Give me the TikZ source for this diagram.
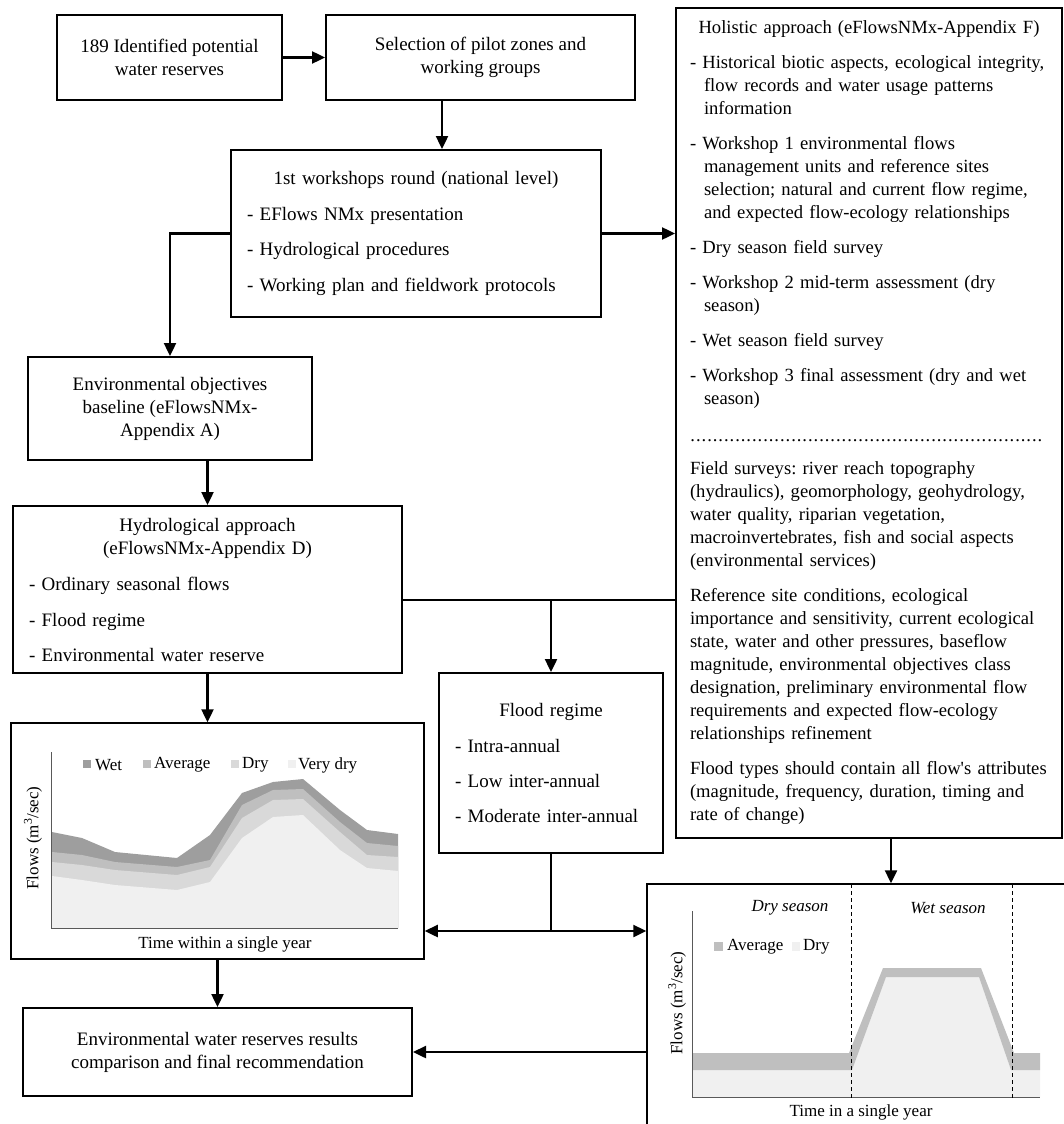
\documentclass[tikz,border=0pt]{standalone}
\usepackage{fontspec}
\setmainfont{Liberation Serif}
\usetikzlibrary{arrows.meta}
\definecolor{wetgray}{gray}{0.62}
\definecolor{avggray}{gray}{0.75}
\definecolor{drygray}{gray}{0.85}
\definecolor{vdrygray}{gray}{0.94}
\definecolor{axisgray}{gray}{0.35}
\begin{document}
\frenchspacing
\begin{tikzpicture}[x=1pt,y=-1pt,
  box/.style={draw,line width=2pt,inner sep=0pt,font=\fontsize{19}{23}\selectfont},
  chartbox/.style={draw,line width=1.5pt,inner sep=0pt},
  arr/.style={line width=2.4pt,-{Triangle[length=13pt,width=12pt]}},
  arrs/.style={line width=2.4pt,{Triangle[length=13pt,width=12pt]}-{Triangle[length=13pt,width=12pt]}},
  link/.style={line width=1.2pt},
  axis/.style={draw=axisgray,line width=1pt},
  lbl/.style={font=\fontsize{17}{20}\selectfont,inner sep=0pt}]
\useasboundingbox (0,0) rectangle (1064,1124);
\node[box,minimum width=225pt,minimum height=85pt,align=center] (ident) at (169.5,57.5) {189 Identified potential\\water reserves};
\node[box,minimum width=309pt,minimum height=85pt,align=center] (sel) at (480.5,57.5) {Selection of pilot zones and\\working groups};
\node[box,minimum width=370pt,minimum height=167pt,text width=338pt,align=left] (ws1) at (416,233.5) {\makebox[338pt]{1st workshops round (national level)}\\[12.5pt]
- EFlows NMx presentation\\[12.5pt]
- Hydrological procedures\\[12.5pt]
- Working plan and fieldwork protocols};
\node[box,minimum width=284pt,minimum height=103pt,align=center] (envobj) at (170,408.5) {Environmental objectives\\baseline (eFlowsNMx-\\Appendix A)};
\node[box,minimum width=389pt,minimum height=167pt,text width=357pt,align=left] (hydro) at (207.5,589.5) {\makebox[357pt]{Hydrological approach}\\
\makebox[357pt]{(eFlowsNMx-Appendix D)}\\[13pt]
- Ordinary seasonal flows\\[13pt]
- Flood regime\\[12pt]
- Environmental water reserve};
\node[box,minimum width=224pt,minimum height=180pt,text width=192pt,align=left] (flood) at (551,763) {\makebox[192pt]{Flood regime}\\[13pt]
- Intra-annual\\[12pt]
- Low inter-annual\\[12pt]
- Moderate inter-annual};
\node[box,minimum width=386pt,minimum height=830pt,text width=358pt,align=left,font=\fontsize{18.6}{23}\selectfont] (holis) at (869,423) {\makebox[358pt]{Holistic approach (eFlowsNMx-Appendix F)}\\[12pt]
- Historical biotic aspects, ecological integrity,\\
\hspace*{14pt}flow records and water usage patterns\\
\hspace*{14pt}information\\[12pt]
- Workshop 1 environmental flows\\
\hspace*{14pt}management units and reference sites\\
\hspace*{14pt}selection; natural and current flow regime,\\
\hspace*{14pt}and expected flow-ecology relationships\\[12pt]
- Dry season field survey\\[12pt]
- Workshop 2 mid-term assessment (dry\\
\hspace*{14pt}season)\\[12pt]
- Wet season field survey\\[12pt]
- Workshop 3 final assessment (dry and wet\\
\hspace*{14pt}season)\\[14pt]
\makebox[358pt]{\leaders\hbox to 5.6pt{\hss.\hss}\hfill}\\[10pt]
Field surveys: river reach topography\\
(hydraulics), geomorphology, geohydrology,\\
water quality, riparian vegetation,\\
macroinvertebrates, fish and social aspects\\
(environmental services)\\[12pt]
Reference site conditions, ecological\\
importance and sensitivity, current ecological\\
state, water and other pressures, baseflow\\
magnitude, environmental objectives class\\
designation, preliminary environmental flow\\
requirements and expected flow-ecology\\
relationships refinement\\[12pt]
\mbox{Flood types should contain all flow\textquotesingle s attributes}\\
(magnitude, frequency, duration, timing and\\
rate of change)};
\node[chartbox,minimum width=413pt,minimum height=236pt] (chartL) at (217.5,841) {};
\begin{scope}
\clip (0,0) rectangle (1064,1124);
\node[chartbox,minimum width=433pt,minimum height=256pt] (chartR) at (863.5,1012) {};
\end{scope}
\node[box,minimum width=389pt,minimum height=88pt,align=center] (final) at (217.5,1052) {Environmental water reserves results\\comparison and final recommendation};
\fill[wetgray] (52,928) -- (52,832) -- (82,838) -- (115,852) -- (177,858) -- (210,835) -- (242,793) -- (273,782) -- (303,779) -- (340,810) -- (367,830) -- (398,834) -- (398,928) -- cycle;
\fill[avggray] (52,928) -- (52,852) -- (82,855) -- (115,862) -- (177,867) -- (210,860) -- (242,805) -- (273,790) -- (303,789) -- (340,822) -- (367,843) -- (398,846) -- (398,928) -- cycle;
\fill[drygray] (52,928) -- (52,862) -- (82,865) -- (115,870) -- (177,875) -- (210,867) -- (242,818) -- (273,800) -- (303,799) -- (340,832) -- (367,855) -- (398,857) -- (398,928) -- cycle;
\fill[vdrygray] (52,928) -- (52,876) -- (82,880) -- (115,885) -- (177,890) -- (210,882) -- (242,838) -- (273,817) -- (303,815) -- (340,850) -- (367,868) -- (398,871) -- (398,928) -- cycle;
\draw[axis] (51,752) -- (51,928) -- (398,928);
\fill[wetgray] (83,760) rectangle (91,768);
\node[lbl,anchor=west] (lgwet) at (95,765) {Wet};
\fill[avggray] (143,760) rectangle (151,768);
\node[lbl,anchor=west] (lgavg) at (154,765) {Average};
\fill[drygray] (231,760) rectangle (239,768);
\node[lbl,anchor=west] (lgdry) at (242,765) {Dry};
\fill[vdrygray] (288,760) rectangle (296,768);
\node[lbl,anchor=west] (lgvdry) at (298,765) {Very dry};
\node[lbl,rotate=90] (flowsL) at (33,838) {Flows (m\textsuperscript{3}/sec)};
\node[lbl] (timeL) at (225,944) {Time within a single year};
\fill[vdrygray] (692,1097) -- (692,1070) -- (852,1070) -- (886,977) -- (979,977) -- (1011,1070) -- (1040,1070) -- (1040,1097) -- cycle;
\fill[avggray] (692,1053) -- (849,1053) -- (883,968) -- (981,968) -- (1014,1053) -- (1040,1053) -- (1040,1070) -- (1011,1070) -- (979,977) -- (886,977) -- (852,1070) -- (692,1070) -- cycle;
\draw[axis] (692,911) -- (692,1097) -- (1040,1097);
\draw[line width=1pt,dash pattern=on 4pt off 3pt] (851,884) -- (851,1100);
\draw[line width=1pt,dash pattern=on 4pt off 3pt] (1012,884) -- (1012,1100);
\fill[avggray] (714,942) rectangle (723,951);
\node[lbl,anchor=west] (lgavgR) at (727,947) {Average};
\fill[vdrygray] (792,942) rectangle (800,951);
\node[lbl,anchor=west] (lgdryR) at (803,947) {Dry};
\node[lbl,font=\fontsize{17}{20}\selectfont\itshape] (dryseas) at (790,908) {Dry season};
\node[lbl,font=\fontsize{17}{20}\selectfont\itshape] (wetseas) at (948,908) {Wet season};
\node[lbl,rotate=90] (flowsR) at (677,1003) {Flows (m\textsuperscript{3}/sec)};
\node[lbl] (timeR) at (861,1112) {Time in a single year};
\coordinate (selout) at ([xshift=117pt]sel.south west);
\coordinate (hyout) at ([yshift=-10.5pt]hydro.east);
\coordinate (fljoin) at ([yshift=-77pt]flood.south);
\coordinate (holout) at ([xshift=22pt]holis.south);
\draw[arr] (ident) -- (sel);
\draw[arr] (selout) -- (selout |- ws1.north);
\draw[arr] (ws1.west) -| (envobj.north);
\draw[arr] (ws1.east) -- (ws1.east -| holis.west);
\draw[arr] (envobj.south -| hydro.north) -- (hydro.north);
\draw[link] (hyout) -- (hyout -| holis.west);
\draw[arr] (hyout -| flood.north) -- (flood.north);
\draw[arr] (hydro.south) -- (hydro.south |- chartL.north);
\draw[arr] (chartL.south) -- (final.north);
\draw[link] (flood.south) -- (fljoin);
\draw[arrs] (fljoin -| chartL.east) -- (fljoin -| chartR.west);
\draw[arr] (holout) -- (holout |- chartR.north);
\draw[arr] (chartR.west |- final.east) -- (final.east);
\end{tikzpicture}
\end{document}
